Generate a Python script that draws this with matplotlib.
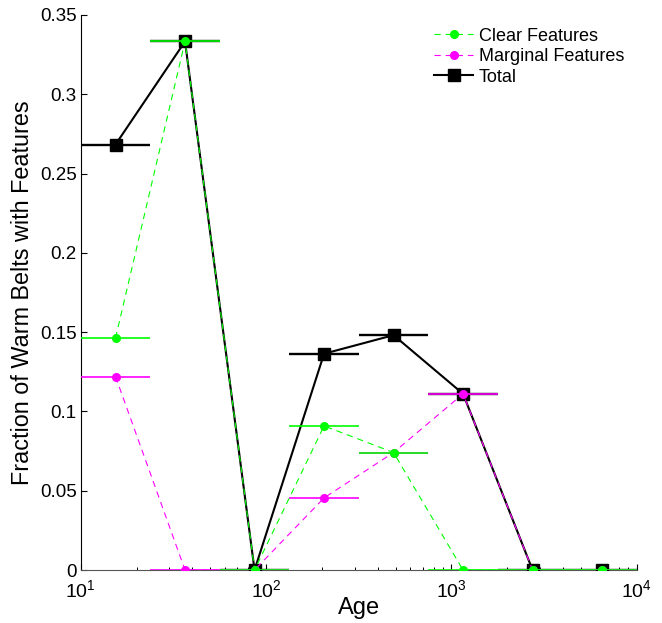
import matplotlib
matplotlib.use("Agg")
import matplotlib.pyplot as plt
from matplotlib.ticker import FixedLocator, FuncFormatter, LogLocator, NullFormatter
from matplotlib.lines import Line2D

plt.rcParams['font.family'] = ['Liberation Sans', 'DejaVu Sans']
plt.rcParams['mathtext.fontset'] = 'custom'
plt.rcParams['mathtext.rm'] = 'Liberation Sans'
plt.rcParams['mathtext.it'] = 'Liberation Sans'
plt.rcParams['lines.scale_dashes'] = False

# Age bins (log-spaced) : centres and edges
age_centers = [15.40, 36.52, 86.60, 205.4, 486.9, 1154.8, 2738.0, 6494.0]
age_lo = [10.0, 23.71, 56.23, 133.4, 316.2, 749.9, 1778.0, 4217.0]
age_hi = [23.71, 56.23, 133.4, 316.2, 749.9, 1778.0, 4217.0, 10000.0]

clear = [0.1463, 0.3333, 0.0, 0.0909, 0.0741, 0.0, 0.0, 0.0]
marginal = [0.1220, 0.0, 0.0, 0.0455, 0.0741, 0.1111, 0.0, 0.0]
total = [0.2683, 0.3333, 0.0, 0.1364, 0.1481, 0.1111, 0.0, 0.0]

labels = ['Clear Features', 'Marginal Features', 'Total']
yticks = [0, 0.05, 0.1, 0.15, 0.2, 0.25, 0.3, 0.35]

GREEN = '#00ff00'
MAGENTA = '#ff00ff'
BLACK = '#000000'

fig = plt.figure(figsize=(6.62, 6.23), dpi=100)
ax = fig.add_axes([0.122, 0.085, 0.840, 0.891])

xerr = [[c - lo for c, lo in zip(age_centers, age_lo)],
        [hi - c for c, hi in zip(age_centers, age_hi)]]

DASH = (4.5, 3.5)
MS_C = 5.5
MS_S = 8.5

# Total
ax.errorbar(age_centers, total, xerr=xerr, fmt='none', ecolor=BLACK,
            elinewidth=1.7, capsize=0, zorder=2)
ax.plot(age_centers, total, '-', color=BLACK, lw=1.5, marker='s',
        ms=MS_S, mfc=BLACK, mec=BLACK, zorder=3)

# Marginal
ax.errorbar(age_centers, marginal, xerr=xerr, fmt='none', ecolor=MAGENTA,
            elinewidth=1.2, capsize=0, zorder=4)
ax.plot(age_centers, marginal, color=MAGENTA, lw=0.8, dashes=DASH,
        marker='o', ms=MS_C, mfc=MAGENTA, mec=MAGENTA, zorder=5)

# Clear
ax.errorbar(age_centers, clear, xerr=xerr, fmt='none', ecolor=GREEN,
            elinewidth=1.2, capsize=0, zorder=6)
ax.plot(age_centers, clear, color=GREEN, lw=0.8, dashes=DASH,
        marker='o', ms=MS_C, mfc=GREEN, mec=GREEN, zorder=7)

ax.set_xscale('log')
ax.set_xlim(10, 1e4)
ax.set_ylim(0, 0.35)
ax.yaxis.set_major_locator(FixedLocator(yticks))
ax.yaxis.set_major_formatter(FuncFormatter(lambda v, p: ('%g' % round(v, 4))))
ax.xaxis.set_major_locator(LogLocator(base=10, numticks=10))
ax.xaxis.set_minor_locator(LogLocator(base=10, subs=range(2, 10), numticks=20))
ax.xaxis.set_minor_formatter(NullFormatter())

for s in ['top', 'right']:
    ax.spines[s].set_visible(False)
ax.spines['left'].set_linewidth(0.8)
ax.spines['bottom'].set_linewidth(0.8)
ax.spines['bottom'].set_color('#555555')

ax.tick_params(axis='y', which='major', direction='in', length=4,
               width=0.8, labelsize=13.5, pad=3)
ax.tick_params(axis='x', which='major', direction='in', length=4,
               width=0.8, labelsize=14, pad=6.5)
ax.tick_params(axis='x', which='minor', direction='in', length=2.5, width=0.7)

ax.set_xlabel('Age', fontsize=17, labelpad=-3)
ax.set_ylabel('Fraction of Warm Belts with Features', fontsize=16.8, labelpad=4)

handles = [
    Line2D([], [], color=GREEN, lw=0.8, dashes=DASH, marker='o', ms=MS_C,
           mfc=GREEN, mec=GREEN),
    Line2D([], [], color=MAGENTA, lw=0.8, dashes=DASH, marker='o', ms=MS_C,
           mfc=MAGENTA, mec=MAGENTA),
    Line2D([], [], color=BLACK, lw=1.5, marker='s', ms=MS_S, mfc=BLACK, mec=BLACK),
]
ax.legend(handles, labels, loc='upper right', bbox_to_anchor=(1.0, 1.0),
          frameon=False, fontsize=13, handlelength=2.2, handletextpad=0.3,
          labelspacing=0.2, borderaxespad=0.3)

fig.savefig('out.png', dpi=100)
